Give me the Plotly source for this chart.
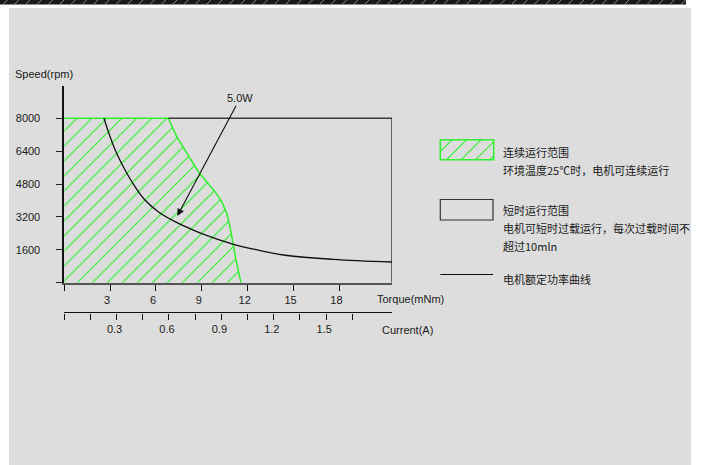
import plotly.graph_objects as go

W, H = 704, 465

# ---------------- data ----------------
# continuous operating range boundary (torque mNm, speed rpm)
cont_torque = [0, 0, 6.81, 7.36, 7.90, 8.34, 8.77, 9.32, 9.86, 10.30, 10.63, 10.84, 11.02, 11.24, 11.43, 11.56]
cont_speed = [0, 8000, 8000, 7105, 6457, 5971, 5401, 4915, 4428, 3942, 3377, 2725, 1917, 1105, 457, 0]

# short-time operating range (rectangle)
short_max_torque = 21.44
short_max_speed = 8000

# rated power curve 5.0W
power_torque = [2.60, 3.00, 3.43, 3.98, 4.63, 5.28, 6.15, 7.25, 8.44, 9.54, 11.06, 12.15, 14.34, 17.6, 21.44]
power_speed = [8000, 7105, 6297, 5484, 4672, 4023, 3455, 2968, 2560, 2240, 1870, 1674, 1347, 1138, 1007]

# arrow annotation
arrow_label = "5.0W"
arrow_tip = (7.40, 3246)
arrow_tail = (11.50, 8974)

speed_ticks = [0, 1600, 3200, 4800, 6400, 8000]
speed_labels = ["", "1600", "3200", "4800", "6400", "8000"]
torque_ticks = [0, 3, 6, 9, 12, 15, 18]
torque_labels = ["", "3", "6", "9", "12", "15", "18"]
current_ticks = [0, 0.15, 0.3, 0.45, 0.6, 0.75, 0.9, 1.05, 1.2, 1.35, 1.5, 1.65]
current_labels = ["", "", "0.3", "", "0.6", "", "0.9", "", "1.2", "", "1.5", ""]
speed_range = [0, 9570]
current_max = 1.877

legend_texts = [
    ("连续运行范围", 151.5),
    ("环境温度25℃时，电机可连续运行", 169.5),
    ("短时运行范围", 210),
    ("电机可短时过载运行，每次过载时间不", 227.5),
    ("超过10mln", 245.5),
    ("电机额定功率曲线", 279),
]

GREEN = "#2ef02e"
LATIN = "Liberation Sans, Arial, sans-serif"
CJK = "Noto Sans CJK SC"


def px(x):
    return x / W


def py(y):
    return 1 - y / H


fig = go.Figure()

# continuous range hatched fill
fig.add_trace(go.Scatter(
    x=cont_torque + [cont_torque[0]], y=cont_speed + [cont_speed[0]],
    mode="lines", fill="toself", fillcolor="rgba(0,0,0,0)",
    fillpattern=dict(shape="/", fgcolor=GREEN, bgcolor="rgba(0,0,0,0)", size=10.6, solidity=0.11),
    line=dict(width=0, color="rgba(0,0,0,0)"), hoverinfo="skip", showlegend=False,
))
# continuous boundary line (top + curve)
fig.add_trace(go.Scatter(
    x=cont_torque[1:], y=cont_speed[1:], mode="lines",
    line=dict(color=GREEN, width=1.5), hoverinfo="skip", showlegend=False,
))
# short-time range frame
fig.add_trace(go.Scatter(
    x=[cont_torque[2], short_max_torque, short_max_torque],
    y=[short_max_speed, short_max_speed, 0], mode="lines",
    line=dict(color="#3a3a3a", width=1.5), hoverinfo="skip", showlegend=False,
))
# rated power curve
fig.add_trace(go.Scatter(
    x=power_torque, y=power_speed, mode="lines", line_shape="spline",
    line=dict(color="#111111", width=1.3), hoverinfo="skip", showlegend=False,
))
# dummy trace for current axis
fig.add_trace(go.Scatter(
    x=current_ticks, y=[0] * len(current_ticks), xaxis="x2", yaxis="y",
    mode="markers", marker=dict(opacity=0), hoverinfo="skip", showlegend=False,
))

shapes = []
# background
shapes.append(dict(type="rect", xref="paper", yref="paper", x0=px(9), x1=px(691), y0=py(465), y1=py(8),
                   fillcolor="#dddddd", line=dict(width=0), layer="below"))
shapes.append(dict(type="rect", xref="paper", yref="paper", x0=px(0), x1=px(686), y0=py(4.5), y1=py(0),
                   fillcolor="#1c1818", line=dict(width=0), layer="below"))
k = 0
while 3 + 11.3 * k < 682:
    x0 = 3 + 11.3 * k
    shapes.append(dict(type="line", xref="paper", yref="paper", x0=px(x0), y0=py(4.5), x1=px(x0 + 4.5), y1=py(0),
                       line=dict(color="#8a8a8a", width=1), layer="below"))
    k += 1

# legend item 1: hatched green rect
lx0, lx1 = 440.3, 493.7
r1y0, r1y1 = 139.7, 159.7
shapes.append(dict(type="rect", xref="paper", yref="paper", x0=px(lx0), x1=px(lx1), y0=py(r1y1), y1=py(r1y0),
                   line=dict(color=GREEN, width=1.5)))
for i in range(5):
    bx = 432.2 + 14.5 * i
    xa, ya = bx, r1y1
    xb, yb = bx + 20, r1y0
    if xa < lx0:
        ya = ya - (lx0 - xa)
        xa = lx0
    if xb > lx1:
        yb = yb + (xb - lx1)
        xb = lx1
    if xa < xb:
        shapes.append(dict(type="line", xref="paper", yref="paper", x0=px(xa), y0=py(ya), x1=px(xb), y1=py(yb),
                           line=dict(color=GREEN, width=1.1)))
# legend item 2: rect
shapes.append(dict(type="rect", xref="paper", yref="paper", x0=px(440.3), x1=px(493), y0=py(220), y1=py(199.5),
                   line=dict(color="#333333", width=1.2)))
# legend item 3: line
shapes.append(dict(type="line", xref="paper", yref="paper", x0=px(440.3), x1=px(493), y0=py(274.5), y1=py(274.5),
                   line=dict(color="#111111", width=1.2)))

annotations = []
annotations.append(dict(text="Speed(rpm)", xref="paper", yref="paper", x=px(43.5), y=py(74), showarrow=False,
                        font=dict(family=LATIN, size=11, color="#1a1a1a"), xanchor="center", yanchor="middle"))
annotations.append(dict(text="Torque(mNm)", xref="paper", yref="paper", x=px(410.8), y=py(298.5), showarrow=False,
                        font=dict(family=LATIN, size=11, color="#1a1a1a"), xanchor="center", yanchor="middle"))
annotations.append(dict(text="Current(A)", xref="paper", yref="paper", x=px(407.3), y=py(330), showarrow=False,
                        font=dict(family=LATIN, size=11, color="#1a1a1a"), xanchor="center", yanchor="middle"))
annotations.append(dict(text=arrow_label, x=arrow_tip[0], y=arrow_tip[1], ax=arrow_tail[0], ay=arrow_tail[1],
                        xref="x", yref="y", axref="x", ayref="y", showarrow=True, arrowhead=2, arrowsize=1.3,
                        arrowwidth=1.1, arrowcolor="#111111",
                        font=dict(family=LATIN, size=11, color="#1a1a1a")))
for txt, yy in legend_texts:
    annotations.append(dict(text=txt, xref="paper", yref="paper", x=px(500.5), y=py(yy), showarrow=False,
                            font=dict(family=CJK, size=11, color="#1a1a1a"), xanchor="left", yanchor="middle"))

fig.update_layout(
    width=W, height=H, template="none",
    margin=dict(l=0, r=0, t=0, b=0, pad=0),
    paper_bgcolor="white", plot_bgcolor="rgba(0,0,0,0)",
    showlegend=False,
    shapes=shapes, annotations=annotations,
    xaxis=dict(domain=[px(64.2), px(392)], range=[0, short_max_torque], anchor="y",
               showgrid=False, zeroline=False, showline=True, linecolor="#555555", linewidth=2,
               tickmode="array", tickvals=torque_ticks, ticktext=torque_labels,
               ticks="outside", ticklen=6, tickwidth=1.4, tickcolor="#111111",
               tickfont=dict(family=LATIN, size=11, color="#1a1a1a"), ticklabelshift=-3,
               automargin=False, fixedrange=True),
    xaxis2=dict(domain=[px(64.2), px(392)], range=[0, current_max], overlaying="x", anchor="free",
                position=py(312.3), side="bottom",
                showgrid=False, zeroline=False, showline=True, linecolor="#111111", linewidth=1.4,
                tickmode="array", tickvals=current_ticks, ticktext=current_labels,
                ticks="outside", ticklen=6, tickwidth=1.4, tickcolor="#111111",
                tickfont=dict(family=LATIN, size=11, color="#1a1a1a"), ticklabelshift=-2,
                automargin=False, fixedrange=True),
    yaxis=dict(domain=[py(282.7), py(86)], range=speed_range, anchor="x",
               showgrid=False, zeroline=False, showline=True, linecolor="#111111", linewidth=1.5,
               tickmode="array", tickvals=speed_ticks, ticktext=speed_labels,
               ticks="outside", ticklen=6, tickwidth=1.4, tickcolor="#222222",
               tickfont=dict(family=LATIN, size=11, color="#1a1a1a"), ticklabelstandoff=14,
               automargin=False, fixedrange=True),
)

fig.write_html("out.html", config={"displayModeBar": False},
               post_script="document.body.style.margin='0';")
